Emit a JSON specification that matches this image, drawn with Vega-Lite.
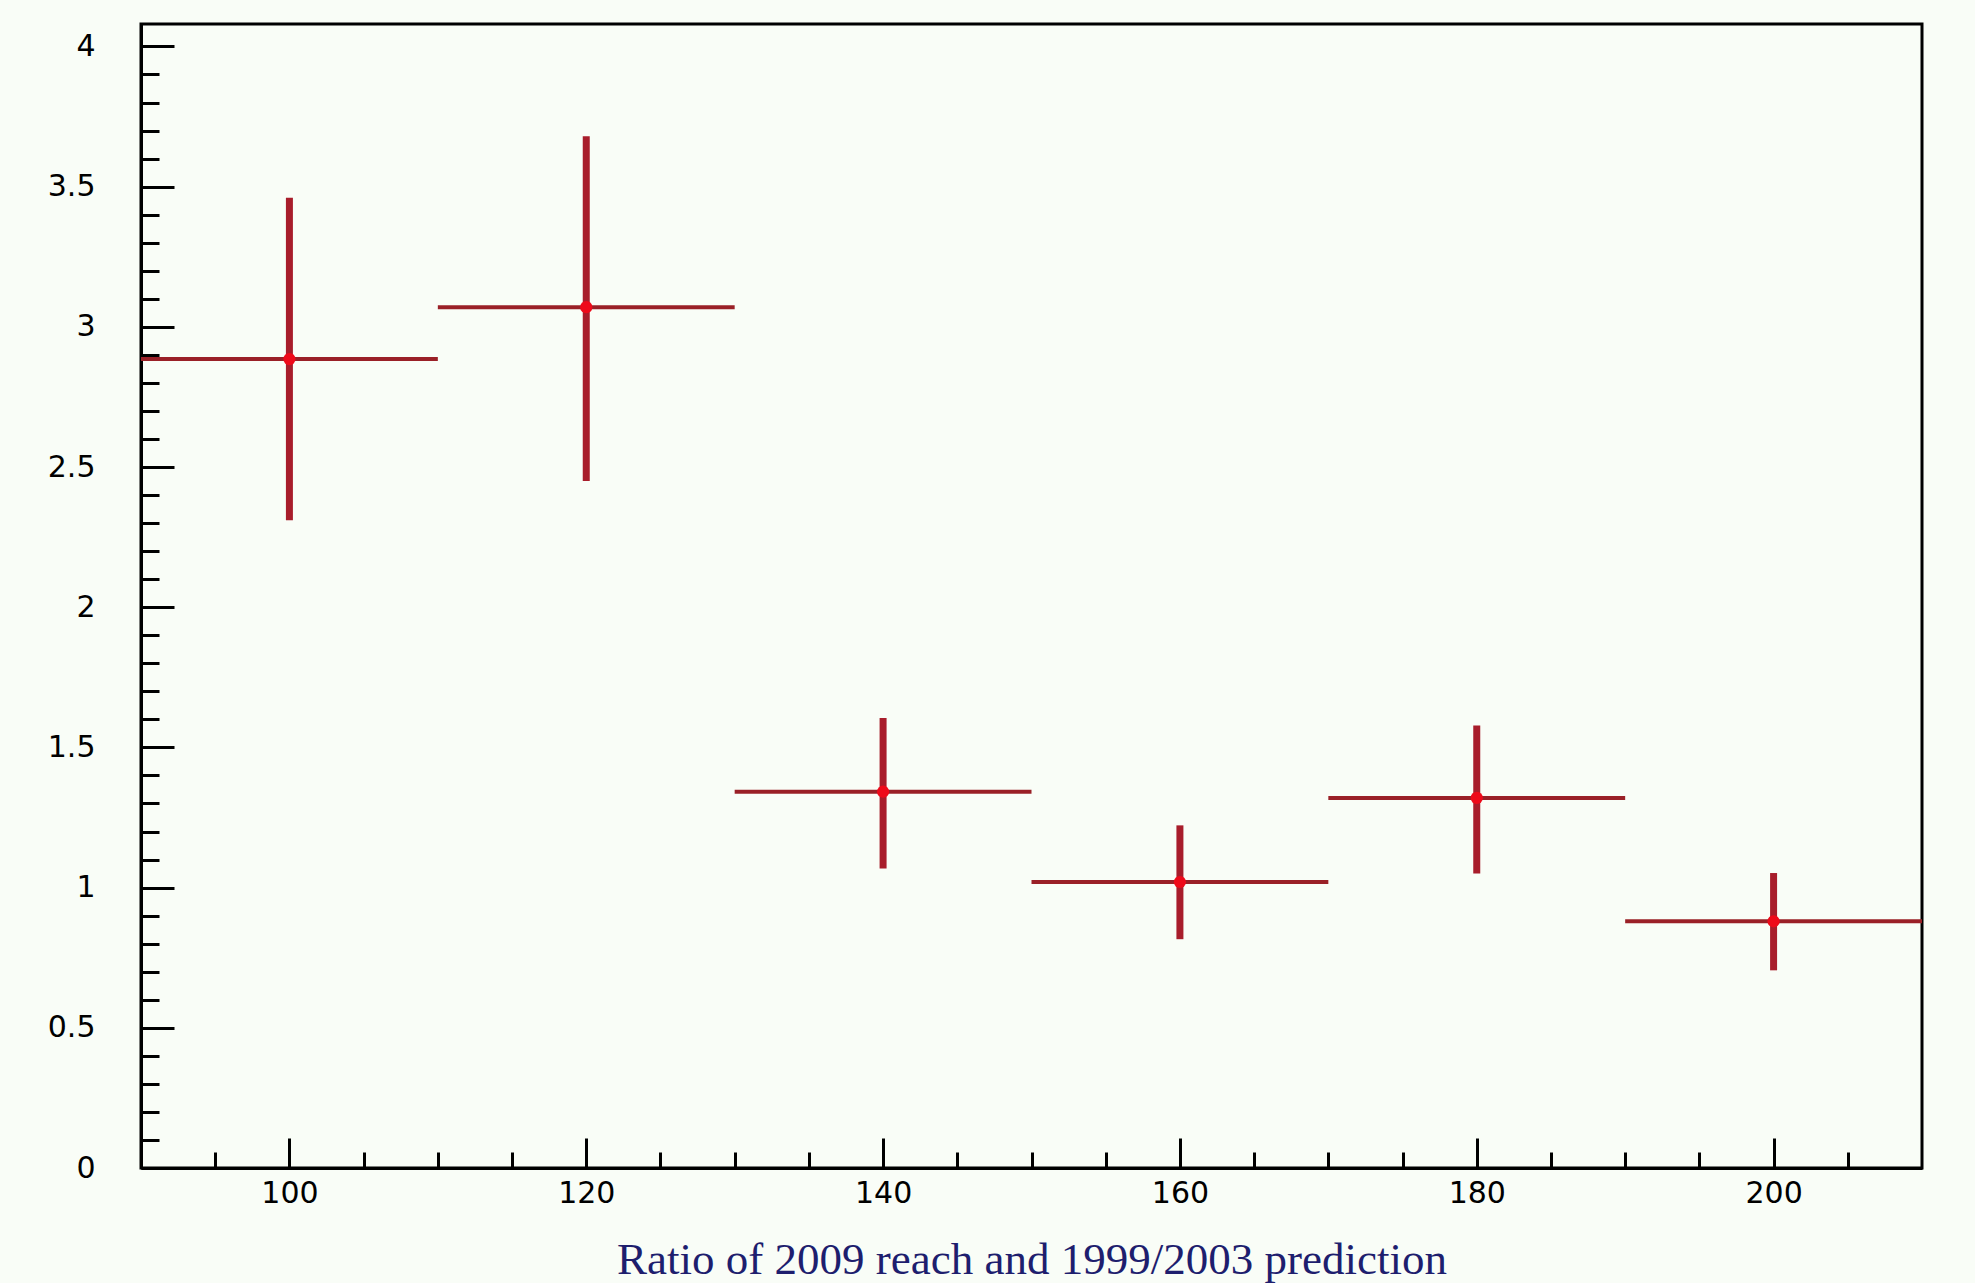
{
  "$schema": "https://vega.github.io/schema/vega-lite/v6.json",
  "width": 1781,
  "height": 1144,
  "autosize": "none",
  "padding": {"left": 141, "top": 24, "right": 53, "bottom": 115},
  "background": "#f9fdf7",
  "config": {
    "view": {"stroke": "black", "strokeWidth": 3, "fill": "#f9fdf7"}
  },
  "data": {
    "values": [
      {"x": 100, "x1": 90, "x2": 110, "value": 2.885, "lo": 2.31, "hi": 3.46},
      {"x": 120, "x1": 110, "x2": 130, "value": 3.07, "lo": 2.45, "hi": 3.68},
      {"x": 140, "x1": 130, "x2": 150, "value": 1.342, "lo": 1.068, "hi": 1.605},
      {"x": 160, "x1": 150, "x2": 170, "value": 1.02, "lo": 0.816, "hi": 1.222},
      {"x": 180, "x1": 170, "x2": 190, "value": 1.32, "lo": 1.05, "hi": 1.578},
      {"x": 200, "x1": 190, "x2": 210, "value": 0.88, "lo": 0.705, "hi": 1.052}
    ]
  },
  "layer": [
    {
      "mark": {"type": "rule", "color": "#9a2027", "strokeWidth": 4},
      "encoding": {
        "x": {
          "field": "x1", "type": "quantitative",
          "scale": {"domain": [90, 210], "nice": false, "zero": false},
          "axis": {
            "title": "Ratio of 2009 reach and 1999/2003 prediction",
            "titleFont": "Liberation Serif", "titleFontSize": 45, "titleColor": "#1e1e6e", "titleFontWeight": "normal",
            "titlePadding": 15,
            "tickCount": 200,
            "values": [95, 100, 105, 110, 115, 120, 125, 130, 135, 140, 145, 150, 155, 160, 165, 170, 175, 180, 185, 190, 195, 200, 205],
            "tickSize": {"condition": {"test": "datum.value % 20 === 0", "value": -30}, "value": -16},
            "tickColor": "black", "tickWidth": 3,
            "domainColor": "black", "domainWidth": 3,
            "labelExpr": "datum.value % 20 === 0 ? format(datum.value, 'd') : ''",
            "labelFont": "DejaVu Sans", "labelFontSize": 30, "labelColor": "black",
            "labelPadding": 40, "labelFlush": false, "labelOverlap": false,
            "grid": false
          }
        },
        "x2": {"field": "x2"},
        "y": {
          "field": "value", "type": "quantitative",
          "scale": {"domain": [0, 4.08], "nice": false, "zero": false},
          "axis": {
            "title": null,
            "tickCount": 200,
            "values": [0, 0.1, 0.2, 0.3, 0.4, 0.5, 0.6, 0.7, 0.8, 0.9, 1, 1.1, 1.2, 1.3, 1.4, 1.5, 1.6, 1.7, 1.8, 1.9, 2, 2.1, 2.2, 2.3, 2.4, 2.5, 2.6, 2.7, 2.8, 2.9, 3, 3.1, 3.2, 3.3, 3.4, 3.5, 3.6, 3.7, 3.8, 3.9, 4],
            "tickSize": {"condition": {"test": "abs(datum.value*2 - round(datum.value*2)) < 0.001", "value": -33}, "value": -18},
            "tickColor": "black", "tickWidth": 3,
            "domainColor": "black", "domainWidth": 3,
            "labelExpr": "abs(datum.value*2 - round(datum.value*2)) < 0.001 ? format(datum.value, '~g') : ''",
            "labelFont": "DejaVu Sans", "labelFontSize": 30, "labelColor": "black",
            "labelPadding": 79, "labelFlush": false, "labelOverlap": false,
            "grid": false
          }
        }
      }
    },
    {
      "mark": {"type": "rule", "color": "#a81d2b", "strokeWidth": 7},
      "encoding": {
        "x": {"field": "x", "type": "quantitative"},
        "y": {"field": "lo", "type": "quantitative"},
        "y2": {"field": "hi"}
      }
    },
    {
      "mark": {"type": "point", "filled": true, "color": "#ee0a1a", "size": 150, "opacity": 1},
      "encoding": {
        "x": {"field": "x", "type": "quantitative"},
        "y": {"field": "value", "type": "quantitative"}
      }
    }
  ]
}
